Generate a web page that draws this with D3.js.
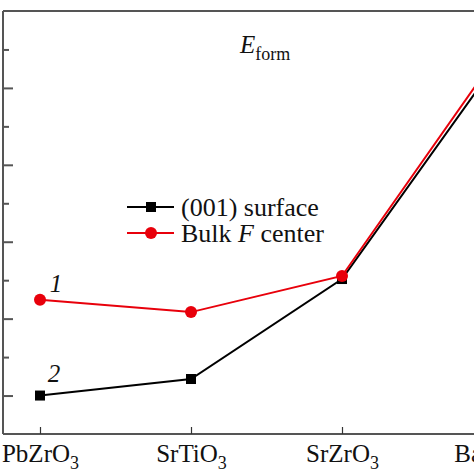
<!DOCTYPE html>
<html><head><meta charset="utf-8">
<script src="https://cdn.jsdelivr.net/npm/d3@7"></script>
<style>
html,body{margin:0;padding:0;background:#fff;}
svg, svg text{font-family:"Times New Roman",Times,"Liberation Serif","Nimbus Roman","DejaVu Serif",serif;}
</style></head>
<body><svg id="c" width="474" height="474"></svg>
<script>
const categories = ["PbZrO3","SrTiO3","SrZrO3","BaZrO3"];
const surfaceValues = [0.0, 0.215, 1.515, 4.26];
const bulkValues = [1.245, 1.085, 1.555, 4.35];
const majorTicks = [0, 1, 2, 3, 4];
const minorTicks = [0.5, 1.5, 2.5, 3.5, 4.5];

const svg = d3.select("#c");
const frame = {left: 3, right: 530, top: 11, bottom: 434};
const x = d3.scalePoint().domain(categories).range([40, 493]);
const y = d3.scaleLinear().domain([-0.5, 5]).range([frame.bottom, frame.top]);
const axisColor = "#555";

svg.append("line").attr("x1", frame.left).attr("x2", frame.right)
  .attr("y1", frame.top).attr("y2", frame.top)
  .attr("stroke", axisColor).attr("stroke-width", 2);

const gl = svg.append("g").attr("transform", `translate(${frame.left},0)`);
gl.call(d3.axisLeft(y).tickValues(majorTicks).tickSize(-10).tickFormat(""));
const glm = svg.append("g").attr("transform", `translate(${frame.left},0)`);
glm.call(d3.axisLeft(y).tickValues(minorTicks).tickSize(-6).tickFormat(""));
[gl, glm].forEach(g => {
  g.select(".domain").attr("stroke", axisColor).attr("stroke-width", 2)
    .attr("d", `M0,${frame.top}V${frame.bottom}`);
  g.selectAll(".tick line").attr("stroke", axisColor).attr("stroke-width", 2);
});

const gb = svg.append("g").attr("transform", `translate(0,${frame.bottom})`);
gb.call(d3.axisBottom(x).tickSize(-7).tickFormat(""));
gb.attr("font-family", null);
gb.select(".domain").attr("stroke", axisColor).attr("stroke-width", 2)
  .attr("d", `M${frame.left},0H${frame.right}`);
gb.selectAll(".tick line").attr("stroke", "#333").attr("stroke-width", 1.2);
gb.selectAll(".tick").each(function(d) {
  const m = d.match(/^(.*?)(\d+)$/);
  const t = d3.select(this).append("text")
    .attr("y", 28).attr("text-anchor", "middle")
    .attr("fill", "#111").attr("font-size", 25);
  t.append("tspan").text(m[1]);
  t.append("tspan").attr("font-size", 18).attr("dy", 7).text(m[2]);
});
gl.attr("font-family", null); glm.attr("font-family", null);

const line = d3.line().x((d, i) => x(categories[i])).y(d => y(d));
svg.append("path").datum(surfaceValues).attr("d", line)
  .attr("fill", "none").attr("stroke", "#000").attr("stroke-width", 2);
svg.append("path").datum(bulkValues).attr("d", line)
  .attr("fill", "none").attr("stroke", "#e8000b").attr("stroke-width", 2);

svg.selectAll("rect.pt").data(surfaceValues).enter().append("rect")
  .attr("class", "pt")
  .attr("x", (d, i) => x(categories[i]) - 5).attr("y", d => y(d) - 5)
  .attr("width", 10).attr("height", 10).attr("fill", "#000");
svg.selectAll("circle.pt").data(bulkValues).enter().append("circle")
  .attr("class", "pt")
  .attr("cx", (d, i) => x(categories[i])).attr("cy", d => y(d))
  .attr("r", 6).attr("fill", "#e8000b");

svg.append("text").attr("x", x(categories[0]) + 16).attr("y", y(bulkValues[0]) - 8)
  .attr("text-anchor", "middle").attr("font-style", "italic").attr("font-size", 25)
  .attr("fill", "#111").text("1");
svg.append("text").attr("x", x(categories[0]) + 14).attr("y", y(surfaceValues[0]) - 14)
  .attr("text-anchor", "middle").attr("font-style", "italic").attr("font-size", 25)
  .attr("fill", "#111").text("2");

const tt = svg.append("text").attr("x", 240).attr("y", 53).attr("fill", "#111").attr("font-size", 25);
tt.append("tspan").attr("font-style", "italic").text("E");
tt.append("tspan").attr("font-size", 18).attr("dy", 7).text("form");

const lg = svg.append("g");
const items = [
  {label: ["(001) surface"], color: "#000", shape: "square", y: 207},
  {label: ["Bulk ", "F", " center"], color: "#e8000b", shape: "circle", y: 233}
];
items.forEach(it => {
  lg.append("line").attr("x1", 127).attr("x2", 174).attr("y1", it.y).attr("y2", it.y)
    .attr("stroke", it.color).attr("stroke-width", 2);
  if (it.shape === "square") {
    lg.append("rect").attr("x", 146).attr("y", it.y - 5).attr("width", 10).attr("height", 10).attr("fill", it.color);
  } else {
    lg.append("circle").attr("cx", 151).attr("cy", it.y).attr("r", 6).attr("fill", it.color);
  }
  const t = lg.append("text").attr("x", 181).attr("y", it.y + 9).attr("font-size", 26).attr("fill", "#111");
  it.label.forEach((s, i) => t.append("tspan").attr("font-style", i === 1 ? "italic" : "normal").text(s));
});
</script>
</body></html>
